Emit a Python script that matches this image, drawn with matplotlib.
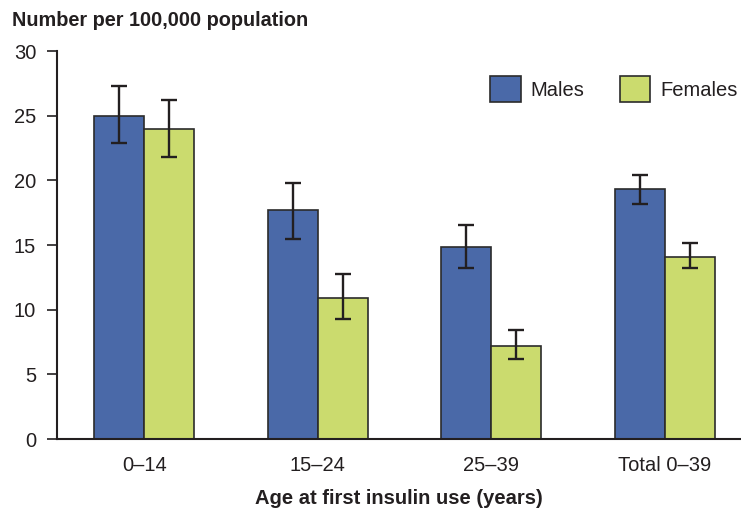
import matplotlib
matplotlib.use("Agg")
import matplotlib.pyplot as plt
import numpy as np

categories = ["0–14", "15–24", "25–39", "Total 0–39"]
males = [25.0, 17.7, 14.85, 19.35]
females = [23.95, 10.9, 7.17, 14.08]
males_lo = [22.9, 15.45, 13.2, 18.2]
males_hi = [27.3, 19.8, 16.55, 20.45]
females_lo = [21.8, 9.25, 6.15, 13.2]
females_hi = [26.2, 12.75, 8.4, 15.18]
series_labels = ["Males", "Females"]

plt.rcParams['font.family'] = ['Liberation Sans', 'DejaVu Sans']

W, H = 741, 511
fig = plt.figure(figsize=(W / 100, H / 100), dpi=100)
ax = fig.add_axes([57 / W, 72 / H, 1 - 57 / W, (439 - 51) / H])

blue = "#4A69A8"
green = "#CBDB6E"
edge = "#2B2B2B"
ink = "#231F20"
fs = 14.5

x = np.arange(len(categories))
bw = 0.288
m = np.array(males)
f = np.array(females)
merr = [m - np.array(males_lo), np.array(males_hi) - m]
ferr = [f - np.array(females_lo), np.array(females_hi) - f]

ax.bar(x - bw / 2, m, bw, color=blue, edgecolor=edge, linewidth=1.2,
       label=series_labels[0], zorder=2)
ax.bar(x + bw / 2, f, bw, color=green, edgecolor=edge, linewidth=1.2,
       label=series_labels[1], zorder=2)
ax.errorbar(x - bw / 2, m, yerr=merr, fmt='none', ecolor=ink, elinewidth=1.7,
            capsize=6, capthick=1.7, zorder=3)
ax.errorbar(x + bw / 2, f, yerr=ferr, fmt='none', ecolor=ink, elinewidth=1.7,
            capsize=6, capthick=1.7, zorder=3)

ax.set_xlim(-0.503, 3.44)
ax.set_ylim(0, 30)
ax.set_yticks([0, 5, 10, 15, 20, 25, 30])
ax.set_xticks(x)
ax.set_xticklabels(categories)
ax.tick_params(axis='y', length=7, width=1.2, color=ink, labelsize=fs,
               pad=8, labelcolor=ink)
ax.tick_params(axis='x', length=0, labelsize=fs, pad=12, labelcolor=ink)

for s in ['top', 'right']:
    ax.spines[s].set_visible(False)
for s in ['left', 'bottom']:
    ax.spines[s].set_linewidth(1.5)
    ax.spines[s].set_color(ink)

ax.set_xlabel("Age at first insulin use (years)", fontsize=fs,
              fontweight='bold', labelpad=10, color=ink)
fig.text(12 / W, 1 - 21 / H, "Number per 100,000 population", fontsize=14.3,
         fontweight='bold', va='center', ha='left', color=ink)

leg = ax.legend(loc='center', bbox_to_anchor=(614 / W, 1 - 89 / H),
                bbox_transform=fig.transFigure, ncol=2, frameon=False,
                fontsize=fs, handlelength=1.5, handleheight=1.6,
                handletextpad=0.5, columnspacing=1.75)
for t in leg.get_texts():
    t.set_color(ink)

fig.savefig("out.png", dpi=100)
